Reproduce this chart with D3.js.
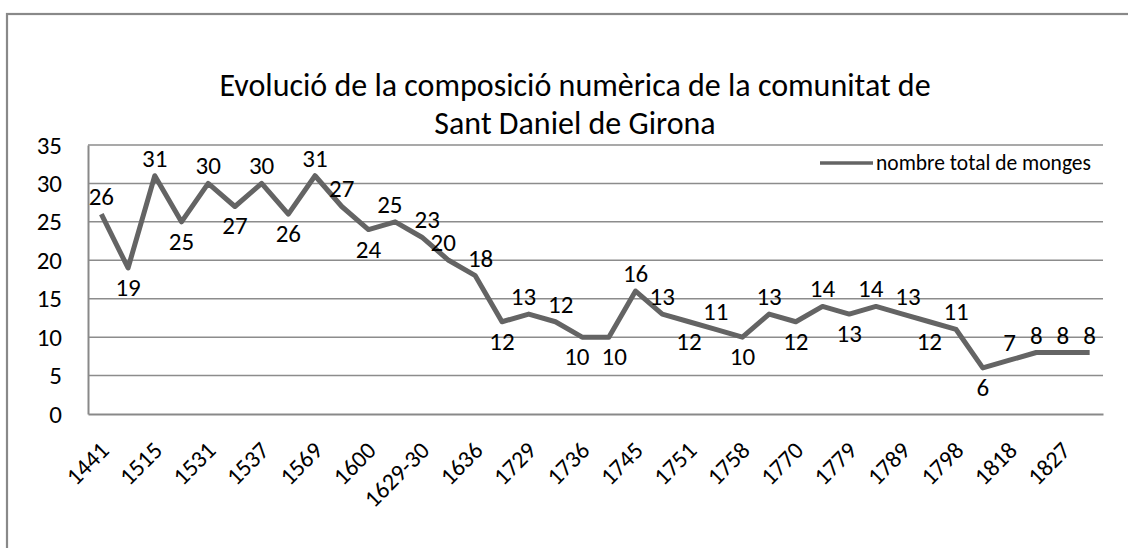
<!DOCTYPE html>
<html>
<head>
<meta charset="utf-8">
<script src="https://cdn.jsdelivr.net/npm/d3@7"></script>
<style>
  body { margin: 0; background: #fff; }
  svg text { font-family: Carlito, Calibri, Lato, sans-serif; fill: #000; }
</style>
</head>
<body>
<div id="chart"></div>
<script>
// every other year is labelled on the axis in the original chart
const tickLabels = ['1441', '1515', '1531', '1537', '1569', '1600', '1629-30', '1636', '1729', '1736',
  '1745', '1751', '1758', '1770', '1779', '1789', '1798', '1818', '1827'];
const monges = [26, 19, 31, 25, 30, 27, 30, 26, 31, 27, 24, 25, 23, 20, 18, 12, 13, 12, 10, 10,
  16, 13, 12, 11, 10, 13, 12, 14, 13, 14, 13, 12, 11, 6, 7, 8, 8, 8];
// 'a' = label above the point, 'b' = below
const labelSide = ['a', 'b', 'a', 'b', 'a', 'b', 'a', 'b', 'a', 'a', 'b', 'a', 'a', 'a', 'a', 'b', 'a', 'a', 'b', 'b',
  'a', 'a', 'b', 'a', 'b', 'a', 'b', 'a', 'b', 'a', 'a', 'b', 'a', 'b', 'a', 'a', 'a', 'a'];
const yTicks = [0, 5, 10, 15, 20, 25, 30, 35];
const seriesName = 'nombre total de monges';
const titleLines = ['Evolució de la composició numèrica de la comunitat de', 'Sant Daniel de Girona'];

const W = 1128, H = 548;
const margin = { top: 145, right: 25, bottom: 134, left: 88 };
const width = W - margin.left - margin.right;
const height = H - margin.top - margin.bottom;

const svg = d3.select('#chart').append('svg')
  .attr('width', W)
  .attr('height', H);

// outer chart frame (runs off the right and bottom of the picture)
svg.append('rect')
  .attr('x', 7).attr('y', 14)
  .attr('width', W + 20).attr('height', H + 20)
  .attr('fill', 'none')
  .attr('stroke', '#898989')
  .attr('stroke-width', 2.2);

svg.append('text')
  .attr('x', 575)
  .attr('y', 96)
  .attr('text-anchor', 'middle')
  .style('font-size', '32px')
  .selectAll('tspan')
  .data(titleLines)
  .enter().append('tspan')
  .attr('x', 575)
  .attr('dy', (d, i) => i ? 38 : 0)
  .text(d => d);

const g = svg.append('g')
  .attr('transform', `translate(${margin.left},${margin.top})`);

const idx = d3.range(monges.length);
const x = d3.scaleBand()
  .domain(idx)
  .range([0, width]);

const y = d3.scaleLinear()
  .domain([0, 35])
  .range([height, 0]);

// gridlines
g.selectAll('.grid')
  .data(yTicks.slice(1))
  .enter().append('line')
  .attr('class', 'grid')
  .attr('x1', 0).attr('x2', width)
  .attr('y1', d => y(d)).attr('y2', d => y(d))
  .attr('stroke', '#8c8c8c')
  .attr('stroke-width', 1.5);

// y axis
const yAxis = g.append('g')
  .call(d3.axisLeft(y).tickValues(yTicks).tickSize(0).tickPadding(26));
yAxis.select('.domain').attr('stroke', '#898989').attr('stroke-width', 2);
yAxis.selectAll('text').style('font-size', '25px');

// x axis, labels on every second category
const xAxis = g.append('g')
  .attr('transform', `translate(0,${height})`)
  .call(d3.axisBottom(x)
    .tickValues(idx.filter(i => i % 2 === 0))
    .tickFormat(i => tickLabels[i / 2])
    .tickSize(0)
    .tickSizeOuter(0));
xAxis.select('.domain').attr('stroke', '#898989').attr('stroke-width', 2);
xAxis.selectAll('text')
  .style('font-size', '24px')
  .attr('text-anchor', 'end')
  .attr('dy', 0)
  .attr('y', 0)
  .attr('transform', 'translate(9,38) rotate(-45)');

const cx = i => x(i) + x.bandwidth() / 2;

g.append('path')
  .datum(monges)
  .attr('fill', 'none')
  .attr('stroke', '#646464')
  .attr('stroke-width', 5)
  .attr('stroke-linejoin', 'round')
  .attr('d', d3.line().x((d, i) => cx(i)).y(d => y(d)));

const labels = g.selectAll('.lbl')
  .data(monges)
  .enter().append('text')
  .attr('class', 'lbl')
  .attr('x', (d, i) => cx(i))
  .attr('y', (d, i) => labelSide[i] === 'a' ? y(d) - 9 : y(d) + 28)
  .attr('text-anchor', 'middle')
  .style('font-size', '25px')
  .text(d => d);

// push neighbouring labels apart when they touch
const nodes = labels.nodes();
const lx = nodes.map(n => +n.getAttribute('x'));
const ly = nodes.map(n => +n.getAttribute('y'));
const lw = nodes.map(n => n.getComputedTextLength());
for (let i = 0; i < nodes.length - 1; i++) {
  if (labelSide[i] !== labelSide[i + 1] || Math.abs(ly[i] - ly[i + 1]) > 16) continue;
  const gap = (lx[i + 1] - lw[i + 1] / 2) - (lx[i] + lw[i] / 2);
  if (gap < 12) {
    const push = (12 - gap) / 2;
    lx[i] -= push;
    lx[i + 1] += push;
  }
}
labels.attr('x', (d, i) => lx[i]);

// legend
const leg = svg.append('g').attr('transform', 'translate(820,163)');
leg.append('line')
  .attr('x1', 0).attr('x2', 53)
  .attr('stroke', '#646464')
  .attr('stroke-width', 3.5);
leg.append('text')
  .attr('x', 56).attr('y', 7)
  .style('font-size', '21.5px')
  .text(seriesName);
</script>
</body>
</html>
